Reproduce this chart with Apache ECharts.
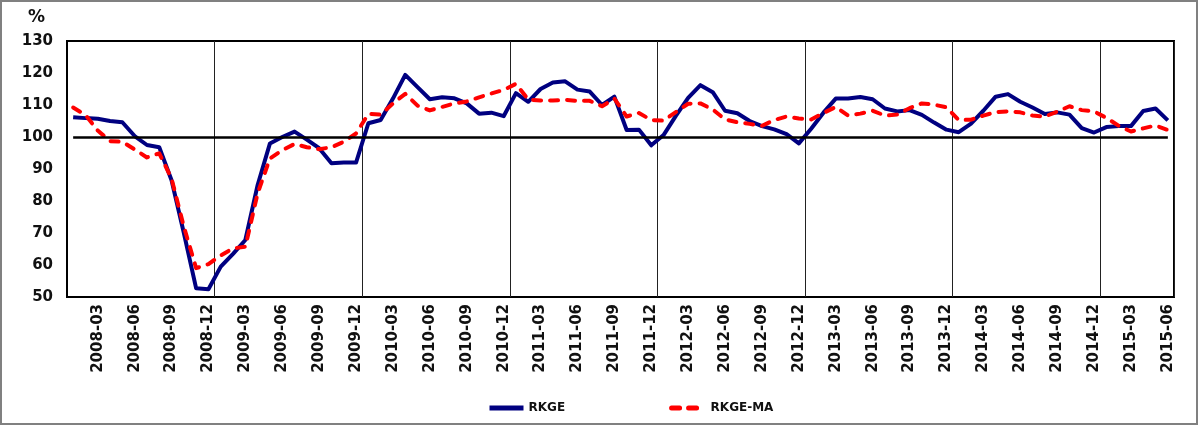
<!DOCTYPE html>
<html>
<head>
<meta charset="utf-8">
<script src="https://cdn.jsdelivr.net/npm/echarts@6/dist/echarts.min.js"></script>
<style>
  html, body { margin: 0; padding: 0; background: #fff; }
  #chart { width: 1199px; height: 427px; }
</style>
</head>
<body>
<div id="chart"></div>
<script>
// monthly categories 2008-01 .. 2015-06
const startYear = 2008;
const monthCount = 90;
const months = [];
for (let i = 0; i < monthCount; i++) {
  const y = startYear + Math.floor(i / 12);
  const m = (i % 12) + 1;
  months.push(y + '-' + (m < 10 ? '0' + m : m));
}

const rkge = [
  106.2, 105.9, 105.7, 105.0, 104.6, 100.3, 97.5, 96.8, 86.5, 70.0, 52.7, 52.4,
  59.5, 63.5, 67.8, 85.0, 98.0, 100.0, 101.7, 99.2, 96.5, 91.8, 92.0, 92.0,
  104.3, 105.3, 112.0, 119.4, 115.6, 111.8, 112.4, 112.1, 110.5, 107.3, 107.6, 106.5,
  113.7, 111.0, 115.0, 117.0, 117.4, 114.8, 114.2, 110.0, 112.6, 102.2, 102.3, 97.4,
  100.6, 106.6, 112.2, 116.2, 114.0, 108.2, 107.4, 105.0, 103.4, 102.4, 100.9, 98.0,
  102.6, 107.6, 112.0, 112.0, 112.5, 111.8, 108.9, 108.0, 108.4, 106.9, 104.5, 102.3,
  101.5, 104.2, 108.2, 112.6, 113.4, 111.0, 109.2, 107.2, 107.7, 107.0, 102.8, 101.4,
  103.1, 103.4, 103.4, 108.1, 108.9, 105.2
];

const rkgeMa = [
  109.2, 106.9, 102.0, 98.7, 98.5, 96.1, 93.6, 94.9, 87.0, 72.0, 59.0, 60.3,
  63.0, 65.2, 65.7, 82.4, 93.3, 95.9, 97.8, 96.8, 96.2, 96.8, 98.5, 101.1,
  107.2, 107.0, 110.5, 113.5, 109.8, 108.3, 109.4, 110.5, 111.1, 112.4, 113.6, 114.7,
  116.6, 111.7, 111.4, 111.4, 111.6, 111.3, 111.3, 109.6, 112.0, 106.4, 107.5, 105.3,
  105.1, 107.8, 110.4, 110.5, 108.6, 105.5, 104.6, 104.1, 103.5, 105.3, 106.4, 105.8,
  105.5, 107.5, 109.4, 106.7, 107.3, 108.2, 106.7, 107.0, 109.0, 110.5, 110.1, 109.3,
  105.3, 105.4, 106.7, 107.8, 108.0, 107.7, 106.7, 106.4, 107.9, 109.6, 108.4, 108.0,
  106.0, 103.5, 101.7, 102.7, 103.6, 102.2
];

const yMin = 50;
const yMax = 130;
const yStep = 10;
const baseLine = 100;

const labelFont = 'DejaVu Sans, Verdana, sans-serif';

const myChart = echarts.init(document.getElementById('chart'));

const option = {
  animation: false,
  backgroundColor: '#fff',
  graphic: [
    {
      type: 'rect',
      shape: { x: 1, y: 1, width: 1196, height: 423 },
      style: { fill: 'none', stroke: '#808080', lineWidth: 2 },
      silent: true
    },
    {
      type: 'text',
      left: 28,
      top: 9,
      style: {
        text: '%',
        font: 'bold 17px ' + labelFont,
        fill: '#111'
      }
    }
  ],
  grid: {
    left: 67,
    right: 25,
    top: 41,
    bottom: 130,
    show: true,
    borderColor: '#000',
    borderWidth: 2,
    backgroundColor: 'transparent'
  },
  legend: {
    bottom: 8,
    left: 482,
    itemWidth: 34,
    itemHeight: 12,
    itemGap: 104,
    itemStyle: { opacity: 0 },
    lineStyle: { width: 5 },
    textStyle: {
      fontFamily: labelFont,
      fontWeight: 'bold',
      fontSize: 12,
      color: '#111'
    },
    data: ['RKGE', 'RKGE-MA']
  },
  xAxis: {
    type: 'category',
    data: months,
    boundaryGap: true,
    axisLine: { show: false },
    axisTick: { show: false },
    axisLabel: {
      rotate: 90,
      margin: 7,
      interval: function (index) { return index % 3 === 2; },
      fontFamily: labelFont,
      fontWeight: 'bold',
      fontSize: 15,
      color: '#111'
    },
    splitLine: {
      show: true,
      interval: function (index) { return index > 0 && index % 12 === 0; },
      lineStyle: { color: '#222', width: 1 }
    }
  },
  yAxis: {
    type: 'value',
    min: yMin,
    max: yMax,
    interval: yStep,
    axisLine: { show: false },
    axisTick: { show: false },
    splitLine: { show: false },
    axisLabel: {
      margin: 14,
      fontFamily: labelFont,
      fontWeight: 'bold',
      fontSize: 15,
      color: '#111'
    }
  },
  series: [
    {
      name: 'RKGE',
      type: 'line',
      data: rkge,
      symbol: 'none',
      z: 3,
      lineStyle: { color: '#000080', width: 4, join: 'round' },
      itemStyle: { color: '#000080' },
      markLine: {
        silent: true,
        symbol: 'none',
        label: { show: false },
        lineStyle: { color: '#000', width: 2.5, type: 'solid' },
        data: [[
          { coord: [months[0], baseLine] },
          { coord: [months[months.length - 1], baseLine] }
        ]]
      }
    },
    {
      name: 'RKGE-MA',
      type: 'line',
      data: rkgeMa,
      symbol: 'none',
      z: 4,
      lineStyle: { color: '#ff0000', width: 4, type: [8, 9], cap: 'round', join: 'round' },
      itemStyle: { color: '#ff0000' }
    }
  ]
};

myChart.setOption(option);
window.addEventListener('resize', () => {
  myChart.resize();
});
</script>
</body>
</html>
